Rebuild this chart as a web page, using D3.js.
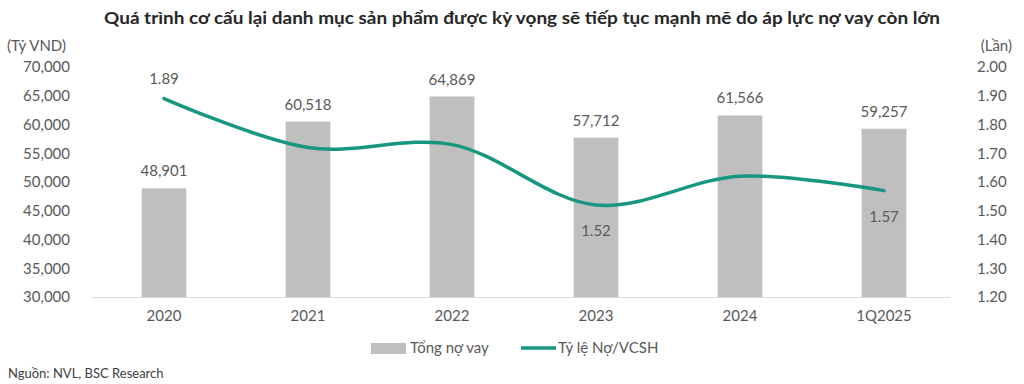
<!DOCTYPE html>
<html>
<head>
<meta charset="utf-8">
<style>
  body { margin: 0; background: #fff; }
  text { font-family: Lato, "Open Sans", sans-serif; }
</style>
</head>
<body>
<svg width="1024" height="384"></svg>
<script src="https://d3js.org/d3.v7.min.js"></script>
<script>
  // data
  var categories = ["2020", "2021", "2022", "2023", "2024", "1Q2025"];
  var totalDebt = [48901, 60518, 64869, 57712, 61566, 59257];
  var debtToEquity = [1.89, 1.72, 1.73, 1.52, 1.62, 1.57];
  var ratioLabelShown = [true, false, false, true, false, true];
  var ratioLabelBelow = [false, false, false, true, false, true];
  var leftTicks = [30000, 35000, 40000, 45000, 50000, 55000, 60000, 65000, 70000];
  var rightTicks = [1.2, 1.3, 1.4, 1.5, 1.6, 1.7, 1.8, 1.9, 2.0];

  var svg = d3.select("svg");
  var gray = "#595959", barColor = "#BFBFBF", lineColor = "#17977F";
  var plotTop = 67, plotBottom = 297, plotLeft = 92, plotRight = 956;

  var x = d3.scaleBand().domain(categories).range([plotLeft, plotRight]).paddingInner(0.69).paddingOuter(0.345);
  var y = d3.scaleLinear().domain([30000, 70000]).range([plotBottom, plotTop]);
  var y2 = d3.scaleLinear().domain([1.2, 2.0]).range([plotBottom, plotTop]);

  // title
  svg.append("text")
    .attr("x", 104).attr("y", 24)
    .attr("font-size", 17).attr("font-weight", "bold").attr("fill", "#262626")
    .attr("textLength", 836).attr("lengthAdjust", "spacingAndGlyphs")
    .text("Quá trình cơ cấu lại danh mục sản phẩm được kỳ vọng sẽ tiếp tục mạnh mẽ do áp lực nợ vay còn lớn");

  svg.append("text").attr("x", 7).attr("y", 51).attr("font-size", 15).attr("fill", gray).text("(Tỷ VND)");
  svg.append("text").attr("x", 1012).attr("y", 51).attr("text-anchor", "end").attr("font-size", 15).attr("fill", gray).text("(Lần)");

  // left axis
  var yAxis = svg.append("g")
    .attr("transform", "translate(" + (plotLeft - 22) + ",0)")
    .call(d3.axisLeft(y).tickValues(leftTicks).tickSize(0).tickPadding(0).tickFormat(d3.format(",")));
  yAxis.select(".domain").remove();
  yAxis.selectAll("text").attr("font-size", 15).attr("fill", gray).style("font-family", "Lato, sans-serif");

  // right axis
  var y2Axis = svg.append("g")
    .attr("transform", "translate(" + (plotRight + 21) + ",0)")
    .call(d3.axisRight(y2).tickValues(rightTicks).tickSize(0).tickPadding(0).tickFormat(d3.format(".2f")));
  y2Axis.select(".domain").remove();
  y2Axis.selectAll("text").attr("font-size", 15).attr("fill", gray).style("font-family", "Lato, sans-serif");

  // bars
  svg.append("g").selectAll("rect")
    .data(totalDebt)
    .enter().append("rect")
    .attr("x", function(d, i) { return x(categories[i]); })
    .attr("y", function(d) { return y(d); })
    .attr("width", x.bandwidth())
    .attr("height", function(d) { return y(30000) - y(d); })
    .attr("fill", barColor);

  // baseline
  svg.append("line")
    .attr("x1", plotLeft).attr("x2", plotRight - 6)
    .attr("y1", plotBottom + 0.5).attr("y2", plotBottom + 0.5)
    .attr("stroke", "#D9D9D9").attr("stroke-width", 1);

  // x axis labels
  var xAxis = svg.append("g")
    .attr("transform", "translate(0," + plotBottom + ")")
    .call(d3.axisBottom(x).tickSize(0).tickPadding(13));
  xAxis.select(".domain").remove();
  xAxis.selectAll("text").attr("font-size", 15).attr("fill", gray).style("font-family", "Lato, sans-serif");

  // bar labels
  svg.append("g").selectAll("text")
    .data(totalDebt)
    .enter().append("text")
    .attr("x", function(d, i) { return x(categories[i]) + x.bandwidth() / 2; })
    .attr("y", function(d) { return y(d) - 12; })
    .attr("text-anchor", "middle")
    .attr("font-size", 15).attr("fill", gray)
    .text(d3.format(","));

  // ratio line
  var line = d3.line()
    .x(function(d, i) { return x(categories[i]) + x.bandwidth() / 2; })
    .y(function(d) { return y2(d); })
    .curve(d3.curveCatmullRom.alpha(0.5));

  svg.append("path")
    .datum(debtToEquity)
    .attr("d", line)
    .attr("fill", "none")
    .attr("stroke", lineColor)
    .attr("stroke-width", 3.5)
    .attr("stroke-linecap", "round");

  svg.append("g").selectAll("text")
    .data(d3.range(categories.length).filter(function(i) { return ratioLabelShown[i]; }))
    .enter().append("text")
    .attr("x", function(i) { return x(categories[i]) + x.bandwidth() / 2; })
    .attr("y", function(i) { return ratioLabelBelow[i] ? y2(debtToEquity[i]) + 31 : y2(debtToEquity[i]) - 15; })
    .attr("text-anchor", "middle")
    .attr("font-size", 15).attr("fill", gray)
    .text(function(i) { return d3.format(".2f")(debtToEquity[i]); });

  // legend
  var lg = svg.append("g").attr("transform", "translate(0,348)");
  lg.append("rect").attr("x", 371).attr("y", -5).attr("width", 35).attr("height", 11).attr("fill", barColor);
  lg.append("text").attr("x", 410).attr("y", 5).attr("font-size", 15).attr("fill", gray).text("Tổng nợ vay");
  lg.append("line").attr("x1", 521).attr("x2", 556).attr("y1", 0).attr("y2", 0)
    .attr("stroke", lineColor).attr("stroke-width", 3.5);
  lg.append("text").attr("x", 558).attr("y", 5).attr("font-size", 15).attr("fill", gray).text("Tỷ lệ Nợ/VCSH");

  // source
  svg.append("text").attr("x", 8).attr("y", 378).attr("font-size", 13).attr("fill", "#404040")
    .text("Nguồn: NVL, BSC Research");
</script>
</body>
</html>
